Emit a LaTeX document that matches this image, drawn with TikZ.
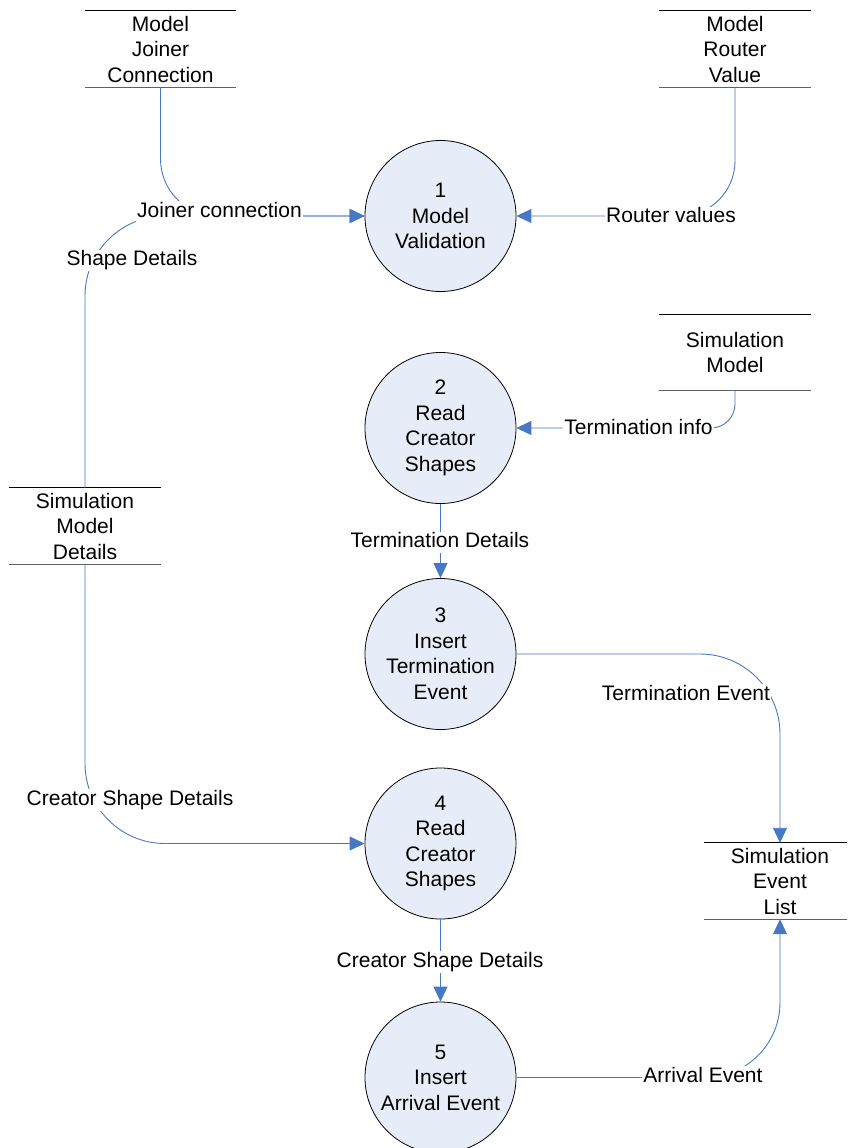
\documentclass[tikz,border=0pt]{standalone}
\usepackage{fontspec}
\setmainfont{Liberation Sans}
\usetikzlibrary{arrows.meta}
\definecolor{flowblue}{RGB}{72,120,196}
\definecolor{procfill}{RGB}{231,237,248}
\definecolor{storegray}{RGB}{96,96,96}
\begin{document}
\begin{tikzpicture}[x=1pt,y=-1pt,
  txt/.style={font=\fontsize{21}{25.5}\selectfont},
  process/.style={txt, circle, draw=black, line width=0.8pt, fill=procfill,
    minimum size=151pt, inner sep=0pt, align=center},
  store/.style={txt, minimum width=151pt, minimum height=76pt, inner sep=0pt, align=center},
  flow/.style={draw=flowblue, line width=0.9pt, -{Triangle[length=15pt,width=14pt]}},
  flowlabel/.style={txt, fill=white, inner xsep=1pt, inner ysep=1pt,
    text height=15pt, text depth=4.5pt},
]
\useasboundingbox (0,0) rectangle (847,1148);
\clip (0,0) rectangle (847,1148);

% data stores
\node[store] (mjc) at (160.5,49)  {Model\\Joiner\\Connection};
\node[store] (mrv) at (735,49)    {Model\\Router\\Value};
\node[store] (sm)  at (735,352.5) {Simulation\\Model};
\node[store] (smd) at (85,526)    {Simulation\\Model\\Details};
\node[store] (sel) at (780,881)   {Simulation\\Event\\List};
\foreach \s in {mjc,mrv,sm,smd,sel}{
  \draw[black, line width=0.8pt] (\s.north west) -- (\s.north east);
  \draw[storegray, line width=1.1pt] (\s.south west) -- (\s.south east);
}

% processes
\node[process] (c1) at (440.5,216)  {1\\Model\\Validation};
\node[process] (c2) at (440.5,428)  {2\\Read\\Creator\\Shapes};
\node[process] (c3) at (440.5,654)  {3\\Insert\\Termination\\Event};
\node[process] (c4) at (440.5,843.5){4\\Read\\Creator\\Shapes};
\node[process] (c5) at (440.5,1077.5) {5\\Insert\\Arrival Event};

% data flows
\draw[flow, rounded corners=57pt] (mjc.south) |- (c1.west);
\draw[flow, rounded corners=80pt] (smd.north) |- (c1.west);
\draw[flow, rounded corners=55pt] (mrv.south) |- (c1.east);
\draw[flow, rounded corners=24pt] (sm.south) |- (c2.east);
\draw[flow] (c2) -- (c3);
\draw[flow, rounded corners=80pt] (c3.east) -| (sel.north);
\draw[flow, rounded corners=80pt] (smd.south) |- (c4.west);
\draw[flow] (c4) -- (c5);
\draw[flow, rounded corners=75pt] (c5.east) -| (sel.south);

% flow labels
\node[flowlabel] (ljc) at (219.5,212) {Joiner connection};
\node[flowlabel] (lsd) at (132,260.5) {Shape Details};
\node[flowlabel] (lrv) at (671,217.5) {Router values};
\node[flowlabel] (lti) at (638.5,429) {Termination info};
\node[flowlabel] (ltd) at (440,542.5) {Termination Details};
\node[flowlabel] (lte) at (686,695)   {Termination Event};
\node[flowlabel] (lcs) at (130,800)   {Creator Shape Details};
\node[flowlabel] (lcl) at (440,962)   {Creator Shape Details};
\node[flowlabel] (lae) at (703,1077)  {Arrival Event};
\end{tikzpicture}
\end{document}
